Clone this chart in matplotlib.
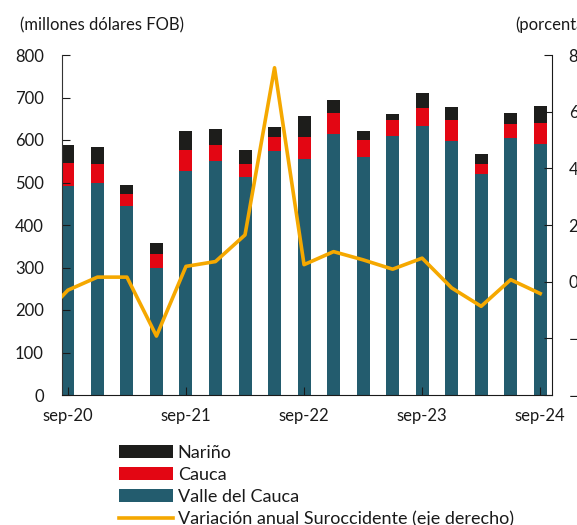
import numpy as np
import matplotlib.pyplot as plt

plt.rcParams['font.family'] = ['Lato', 'DejaVu Sans']

# quarterly, sep-20 .. sep-24
labels = ['sep-20', 'sep-21', 'sep-22', 'sep-23', 'sep-24']
valle = [492, 498, 445, 300, 528, 550, 514, 573, 555, 613, 559, 610, 634, 598, 520, 604, 591]
cauca = [55, 45, 29, 32, 48, 39, 29, 34, 51, 51, 42, 36, 42, 48, 23, 33, 49]
narino = [41, 40, 21, 26, 46, 36, 33, 23, 50, 29, 21, 14, 35, 32, 24, 27, 41]
# annual variation (%), first value is jun-20 (outside the plotted range)
variacion = [-14, -3.0, 1.6, 1.6, -19.2, 5.4, 7.1, 16.5, 75.5, 6.0, 10.6, 7.7, 4.4, 8.3, -2.2, -8.7, 0.7, -4.2]

c_valle = '#235c6e'
c_cauca = '#e30613'
c_narino = '#1d1d1b'
c_line = '#f5a800'

x = np.arange(len(valle))
valle = np.array(valle)
cauca = np.array(cauca)
narino = np.array(narino)

fig = plt.figure(figsize=(5.77, 5.25), dpi=100)
ax = fig.add_axes([62/577, 130/525, 490/577, 340/525])

w = 0.44
b1 = ax.bar(x, valle, w, color=c_valle, label='Valle del Cauca')
b2 = ax.bar(x, cauca, w, bottom=valle, color=c_cauca, label='Cauca')
b3 = ax.bar(x, narino, w, bottom=valle + cauca, color=c_narino, label='Nariño')

ax.set_ylim(0, 800)
ax.set_yticks(range(0, 801, 100))
ax.set_xlim(-0.2, 16.4)
ax.set_xticks(x[::4])
ax.set_xticklabels(labels)

ax2 = ax.twinx()
l1, = ax2.plot(np.arange(-1, len(valle)), variacion, color=c_line, lw=2.6,
               label='Variación anual Suroccidente (eje derecho)')
ax2.set_ylim(-40, 80)
ax2.set_yticks(range(-40, 81, 20))
ax2.set_xlim(-0.2, 16.4)

for a in (ax, ax2):
    a.spines['top'].set_visible(False)
ax.spines['right'].set_visible(False)
ax2.spines['left'].set_visible(False)
ax2.spines['bottom'].set_visible(False)
ax.spines['left'].set_color('#333333')
ax.spines['bottom'].set_color('#1a1a1a')
ax2.spines['right'].set_color('#1a1a1a')

ax.tick_params(axis='y', direction='in', length=6, pad=13, labelsize=12, colors='#1a1a1a')
ax.tick_params(axis='x', direction='in', length=6, pad=9, labelsize=12, colors='#1a1a1a')
ax2.tick_params(axis='y', direction='in', length=6, pad=12, labelsize=12, colors='#1a1a1a')

fig.text(20/577, 1 - 25/525, '(millones dólares FOB)', fontsize=12, va='center', color='#1a1a1a')
fig.text(515/577, 1 - 25/525, '(porcentaje)', fontsize=12, va='center', color='#1a1a1a')

leg = fig.legend([b3, b2, b1, l1], [b3.get_label(), b2.get_label(), b1.get_label(), l1.get_label()],
                 loc='upper left', bbox_to_anchor=(119/577, 1 - 445/525), frameon=False,
                 fontsize=13, handlelength=3.0, handleheight=0.7, labelspacing=0.32,
                 handletextpad=0.25, borderaxespad=0, borderpad=0)
for t in leg.get_texts():
    t.set_color('#1a1a1a')

fig.savefig('out.png', dpi=100)
